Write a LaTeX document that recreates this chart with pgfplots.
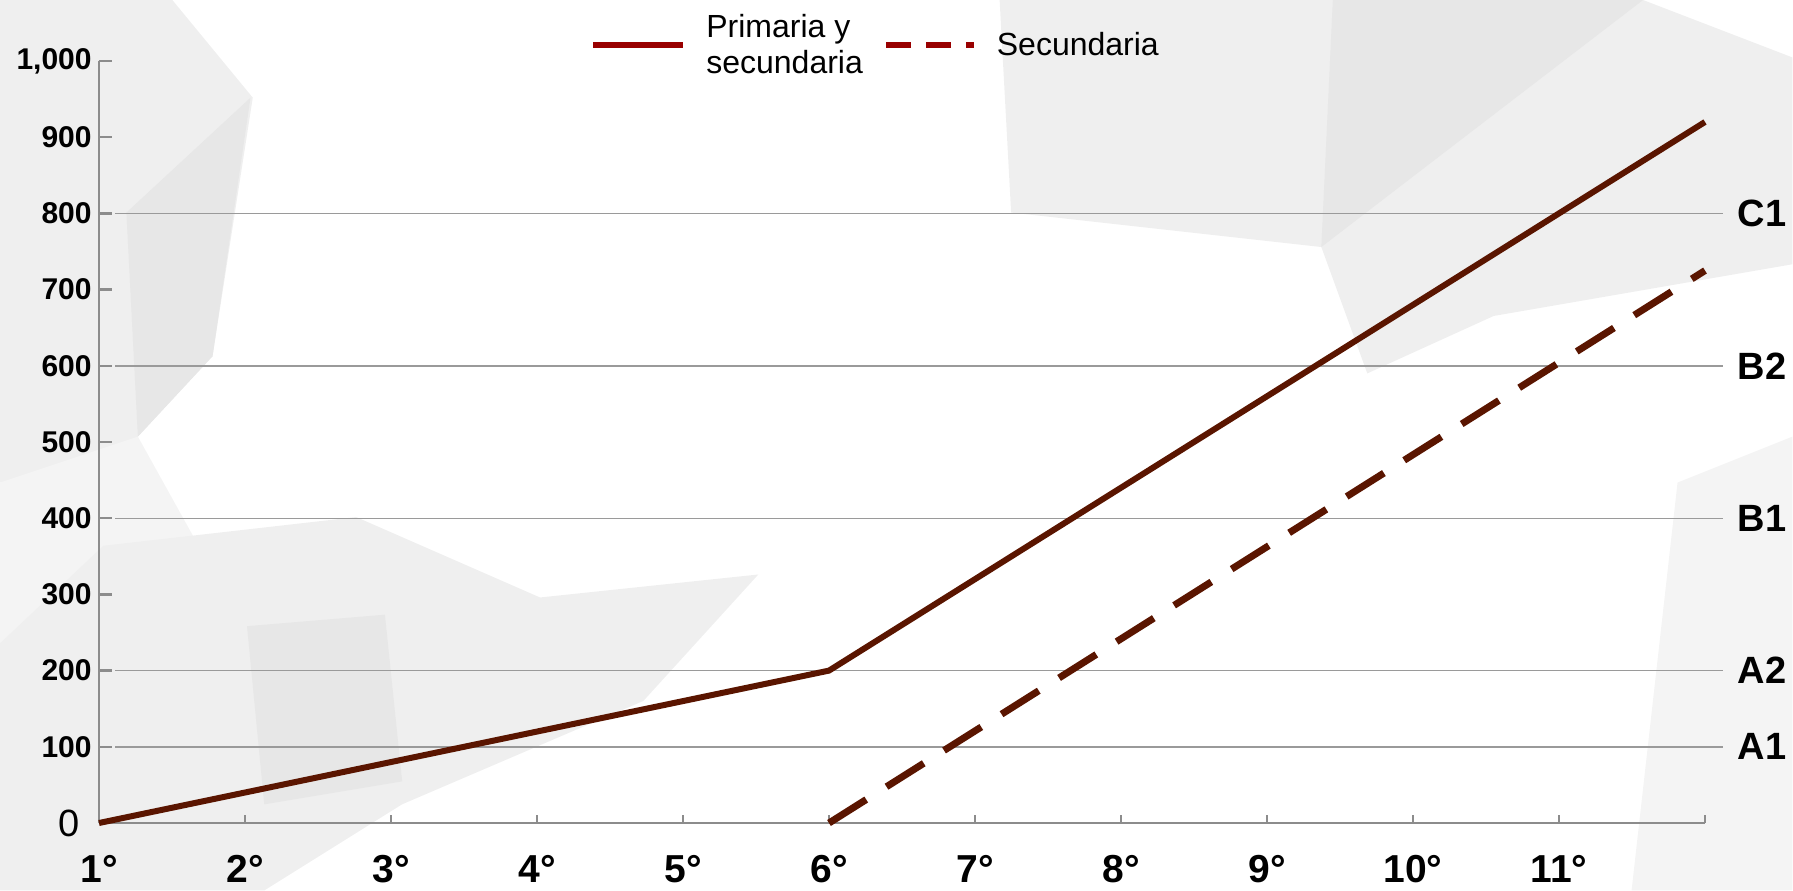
\documentclass[border=0pt]{standalone}
\usepackage{fontspec}
\setmainfont{Liberation Sans}
\usepackage{pgfplots}
\pgfplotsset{compat=1.18}

\definecolor{linea}{HTML}{5A1500}
\definecolor{leyenda}{HTML}{990000}
\definecolor{ejes}{HTML}{8C8C8C}
\definecolor{rejilla}{HTML}{9A9A9A}
\definecolor{fondoA}{HTML}{EFEFEF}
\definecolor{fondoB}{HTML}{E7E7E7}
\definecolor{fondoC}{HTML}{F4F4F4}

\tikzset{nivel/.style={anchor=west, inner sep=0pt, xshift=7.5pt, font=\bfseries\fontsize{19}{19}\selectfont},
         guia/.style={rejilla, line width=0.7pt}}

\begin{document}
\begin{tikzpicture}
\useasboundingbox (-49.5pt,-33.5pt) rectangle (847pt,411.5pt);
% fondo de poligonos grises
\begin{scope}[shift={(-49.5pt,411.5pt)}, x=0.5745pt, y=-0.5745pt]
  \fill[fondoA] (0,0) -- (150,0) -- (220,85) -- (185,310) -- (120,380) -- (95,420) -- (0,420) -- cycle;
  \fill[fondoB] (110,185) -- (218,85) -- (185,310) -- (120,380) -- cycle;
  \fill[fondoC] (0,420) -- (120,380) -- (170,470) -- (0,560) -- cycle;
  \fill[fondoA] (0,560) -- (90,475) -- (310,450) -- (470,520) -- (660,500) -- (560,610) -- (350,700) -- (230,775) -- (0,775) -- cycle;
  \fill[fondoB] (215,545) -- (335,535) -- (350,680) -- (230,700) -- cycle;
  \fill[fondoA] (870,0) -- (1430,0) -- (1560,50) -- (1560,230) -- (1300,275) -- (1190,325) -- (1150,215) -- (880,185) -- cycle;
  \fill[fondoB] (1160,0) -- (1430,0) -- (1215,165) -- (1150,215) -- cycle;
  \fill[fondoC] (1460,420) -- (1560,380) -- (1560,775) -- (1420,775) -- cycle;
\end{scope}
\begin{axis}[
    scale only axis,
    width=803pt, height=381pt,
    xmin=1, xmax=12,
    ymin=0, ymax=1000,
    clip=false,
    axis x line*=bottom,
    axis y line*=left,
    axis line style={ejes, line width=1.2pt},
    tick align=inside,
    tick style={ejes, line width=1.2pt},
    xtick style={/pgfplots/major tick length=4pt},
    ytick style={/pgfplots/major tick length=6.5pt},
    xtick={1,2,3,4,5,6,7,8,9,10,11,12},
    xticklabels={1°,2°,3°,4°,5°,6°,7°,8°,9°,10°,11°,{}},
    ytick={0,100,200,300,400,500,600,700,800,900,1000},
    yticklabels={{\fontsize{19}{19}\selectfont\mdseries 0\hspace*{6pt}},100,200,300,400,500,600,700,800,900,{1,000}},
    xticklabel style={font=\bfseries\fontsize{19.5}{19.5}\selectfont, inner sep=0pt, anchor=north, yshift=-16pt},
    yticklabel style={font=\bfseries\fontsize{15}{15}\selectfont, inner sep=0pt, anchor=east, xshift=-3.5pt},
    legend columns=2,
    legend style={at={(0.3057,1.021)}, anchor=west, draw=none, fill=none,
        inner sep=0pt, column sep=10pt, font=\fontsize{16}{18}\selectfont,
        nodes={inner sep=0pt, align=left}, cells={anchor=west}},
]
% lineas de referencia A1 ... C1
\draw[guia] (axis cs:1.11,100) -- (axis cs:12.12,100);
\draw[guia] (axis cs:1.11,200) -- (axis cs:12.12,200);
\draw[guia] (axis cs:1.11,400) -- (axis cs:12.12,400);
\draw[guia] (axis cs:1.11,600) -- (axis cs:12.12,600);
\draw[guia] (axis cs:1.11,800) -- (axis cs:12.12,800);
\node[nivel] at (axis cs:12.12,100) {A1};
\node[nivel] at (axis cs:12.12,200) {A2};
\node[nivel] at (axis cs:12.12,400) {B1};
\node[nivel] at (axis cs:12.12,600) {B2};
\node[nivel] at (axis cs:12.12,800) {C1};
\addplot[linea, line width=3pt, forget plot] coordinates {
    (1,0) (6,200) (12,920)
};
\addplot[linea, line width=3.5pt, dash pattern=on 22pt off 12pt, forget plot] coordinates {
    (6,0) (12,725)
};
\addlegendimage{legend image code/.code={\draw[leyenda, line width=3pt] (0pt,0pt) -- (45pt,0pt);}}
\addlegendentry{Primaria y\\secundaria}
\addlegendimage{legend image code/.code={\draw[leyenda, line width=3pt, dash pattern=on 12.5pt off 7.5pt] (13pt,0pt) -- (57pt,0pt);}}
\addlegendentry{Secundaria}
\end{axis}
\end{tikzpicture}
\end{document}
